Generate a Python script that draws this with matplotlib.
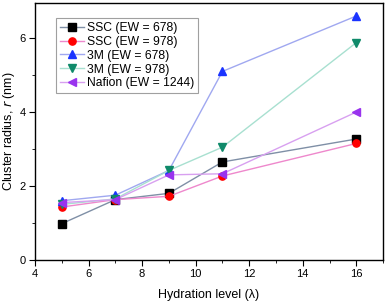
import matplotlib
matplotlib.use("Agg")
import matplotlib.pyplot as plt
from matplotlib.ticker import MultipleLocator

plt.rcParams['font.family'] = ['Liberation Sans', 'DejaVu Sans']

hydration = [5, 7, 9, 11, 16]
ssc_678 = [0.98, 1.63, 1.80, 2.65, 3.27]
ssc_978 = [1.43, 1.63, 1.72, 2.27, 3.15]
m3_678 = [1.60, 1.75, 2.42, 5.10, 6.60]
m3_978 = [1.50, 1.65, 2.42, 3.05, 5.88]
nafion = [1.55, 1.63, 2.30, 2.33, 4.00]
labels = ['SSC (EW = 678)', 'SSC (EW = 978)', '3M (EW = 678)', '3M (EW = 978)', 'Nafion (EW = 1244)']

series = [ssc_678, ssc_978, m3_678, m3_978, nafion]
markers = ['s', 'o', '^', 'v', '<']
mcolors = ['#000000', '#ff0000', '#1a33ff', '#0f8a6a', '#9933ee']
lcolors = ['#7f8fa6', '#ee88cc', '#a0a8f0', '#a8e0d0', '#d8a0f0']

fig = plt.figure(figsize=(3.85, 3.05), dpi=100)
ax = fig.add_axes([0.091, 0.148, 0.904, 0.842])

for y, m, mc, lc, lab in zip(series, markers, mcolors, lcolors, labels):
    ax.plot(hydration, y, color=lc, lw=1.0, marker=m, ms=5.2,
            mfc=mc, mec=mc, label=lab)

ax.set_xlim(4, 17)
ax.set_ylim(0, 6.95)
ax.xaxis.set_major_locator(MultipleLocator(2))
ax.xaxis.set_minor_locator(MultipleLocator(1))
ax.yaxis.set_major_locator(MultipleLocator(2))
ax.yaxis.set_minor_locator(MultipleLocator(1))
ax.tick_params(which='both', direction='out', labelsize=8)
ax.tick_params(which='major', length=4, pad=2.5)
ax.tick_params(which='minor', length=2.5)
for s in ax.spines.values():
    s.set_linewidth(1.0)

ax.set_xlabel('Hydration level (\u03bb)', fontsize=9, labelpad=7)
ax.set_ylabel('Cluster radius, $\\it{r}$ (nm)', fontsize=9, labelpad=2)

leg = ax.legend(loc='upper left', bbox_to_anchor=(0.06, 0.94), fontsize=8.7,
                frameon=True, fancybox=False, edgecolor='#888888',
                handlelength=2.0, labelspacing=0.15, borderpad=0.3,
                handletextpad=0.3, borderaxespad=0)
leg.get_frame().set_linewidth(0.8)

fig.savefig('out.png', dpi=100)
